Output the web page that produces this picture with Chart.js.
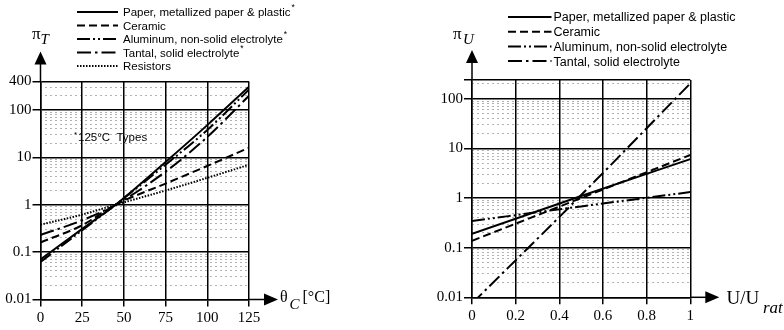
<!DOCTYPE html>
<html>
<head>
<meta charset="utf-8">
<script src="https://cdn.jsdelivr.net/npm/chart.js@4.4.0/dist/chart.umd.min.js"></script>
<style>
html,body{margin:0;padding:0;background:#fff;}
#wrap{position:relative;width:784px;height:330px;}
.box{position:absolute;top:0;width:392px;height:330px;}
</style>
</head>
<body>
<div id="wrap">
  <div class="box" style="left:0"><canvas id="tempChart"></canvas></div>
  <div class="box" style="left:392px"><canvas id="voltChart"></canvas></div>
</div>
<script>
// left: temperature factor pi_T vs case temperature
const tempC        = [0, 25, 45, 75, 100, 125];
const piT_paper    = [0.07, 0.31, 1, 8, 48, 310];
const piT_ceramic  = [0.16, 0.37, 1, 2.8, 6.6, 16];
const piT_aluminum = [0.062, 0.29, 1, 7, 38, 270];
const piT_tantal   = [0.23, 0.47, 1, 5, 27, 200];
const piT_resistor = [0.38, 0.62, 1, 2, 3.7, 7];
const tempTicks    = [0, 25, 50, 75, 100, 125];
const piT_labels   = [0.01, 0.1, 1, 10, 100, 400];
const namesT = ["Paper, metallized paper & plastic", "Ceramic", "Aluminum, non-solid electrolyte", "Tantal, solid electrolyte", "Resistors"];
const starT  = [true, false, true, true, false];

// right: voltage factor pi_U vs U/Urat
const uRatio       = [0, 0.5, 1];
const piU_paper    = [0.19, 1.1, 6.1];
const piU_ceramic  = [0.138, 1.0, 7.4];
const piU_aluminum = [0.345, 0.68, 1.32];
const piU_tantal   = [0.0075, 1.15, 205];
const uTicks       = [0, 0.2, 0.4, 0.6, 0.8, 1];
const piU_labels   = [0.01, 0.1, 1, 10, 100];
const piU_max      = 240;
const namesU = ["Paper, metallized paper & plastic", "Ceramic", "Aluminum, non-solid electrolyte", "Tantal, solid electrolyte"];

const dashes = [[], [8, 4], [13, 3, 2, 3, 2, 3], [14, 4, 2.5, 4], [1.5, 1.5]];
const serif = "'Liberation Serif', 'Times New Roman', serif";
const sans = "'Liberation Sans', Arial, sans-serif";

// faint dotted look for the minor grid lines
function dotPattern(){
    const c = document.createElement('canvas');
    c.width = 5; c.height = 1;
    const g = c.getContext('2d');
    g.fillStyle = 'rgba(0,0,0,0.3)';
    g.fillRect(0, 0, 2, 1);
    return g.createPattern(c, 'repeat');
}
const minorColor = dotPattern();

function points(xs, ys){
    return xs.map((x, i) => ({x: x, y: ys[i]}));
}

function makeSet(label, xs, ys, k, star){
    return {
        label: label,
        data: points(xs, ys),
        borderColor: '#000',
        borderWidth: 2,
        borderDash: dashes[k],
        pointRadius: 0,
        fill: false,
        cubicInterpolationMode: 'monotone',
        star: star
    };
}

function logTicks(max, labels){
    let out = [];
    for(let e = -2; e <= 2; e++){
        for(let k = 1; k <= 9; k++){
            let v = +(k * Math.pow(10, e)).toPrecision(3);
            if(v <= max) out.push(v);
        }
    }
    labels.forEach(v => { if(!out.includes(v)) out.push(v); });
    if(!out.includes(max)) out.push(max);
    return out.sort((a, b) => a - b);
}

function gridFor(isMajor){
    return {
        color: c => (c.tick && isMajor(c.tick.value)) ? '#000' : minorColor,
        lineWidth: c => (c.tick && isMajor(c.tick.value)) ? 1.5 : 1,
        tickColor: c => (c.tick && isMajor(c.tick.value)) ? '#000' : 'rgba(0,0,0,0)',
        tickWidth: 1.5,
        tickLength: 8
    };
}

// arrows, axis titles, legend and note
const decor = {
    id: 'decor',
    afterDraw(chart, args, o){
        const ctx = chart.ctx;
        const a = chart.chartArea;
        ctx.save();
        ctx.strokeStyle = '#000';
        ctx.fillStyle = '#000';
        ctx.lineWidth = 1.5;
        // y arrow
        ctx.beginPath();
        ctx.moveTo(a.left, a.top);
        ctx.lineTo(a.left, a.top - 18);
        ctx.stroke();
        ctx.beginPath();
        ctx.moveTo(a.left, a.top - 30);
        ctx.lineTo(a.left - 6, a.top - 17);
        ctx.lineTo(a.left + 6, a.top - 17);
        ctx.closePath();
        ctx.fill();
        // x arrow
        ctx.beginPath();
        ctx.moveTo(a.right, a.bottom);
        ctx.lineTo(a.right + 16, a.bottom);
        ctx.stroke();
        ctx.beginPath();
        ctx.moveTo(a.right + 29, a.bottom);
        ctx.lineTo(a.right + 15, a.bottom - 6);
        ctx.lineTo(a.right + 15, a.bottom + 6);
        ctx.closePath();
        ctx.fill();

        // titles
        ctx.textBaseline = 'alphabetic';
        ctx.textAlign = 'left';
        o.titles.forEach(t => {
            ctx.font = (t.italic ? 'italic ' : '') + t.size + 'px ' + serif;
            ctx.fillText(t.text, t.x, t.y);
        });

        // legend
        const sets = chart.data.datasets;
        const L = o.legend;
        ctx.textBaseline = 'middle';
        sets.forEach((ds, i) => {
            let y = L.y + i * L.gap;
            ctx.setLineDash(ds.borderDash);
            ctx.lineWidth = ds.borderWidth;
            ctx.beginPath();
            ctx.moveTo(L.x0, y);
            ctx.lineTo(L.x1, y);
            ctx.stroke();
            ctx.setLineDash([]);
            ctx.font = L.size + 'px ' + sans;
            ctx.fillText(ds.label, L.tx, y + 1);
            if(ds.star){
                let w = ctx.measureText(ds.label).width;
                ctx.font = (L.size - 3) + 'px ' + sans;
                ctx.fillText('*', L.tx + w + 1, y - 4);
            }
        });

        if(o.note){
            ctx.textBaseline = 'alphabetic';
            ctx.font = '8px ' + sans;
            ctx.fillText('*', o.note.x, o.note.y - 4);
            ctx.font = o.note.size + 'px ' + sans;
            ctx.fillText(o.note.text, o.note.x + 4, o.note.y);
        }
        ctx.restore();
    }
};

function buildChart(id, cfg){
    const isMajor = v => cfg.labels.includes(v) || v === cfg.max;
    const yTicks = logTicks(cfg.max, cfg.labels);
    return new Chart(id, {
        type: 'line',
        data: { datasets: cfg.sets },
        plugins: [decor],
        options: {
            responsive: true,
            maintainAspectRatio: false,
            animation: false,
            layout: { padding: cfg.padding },
            plugins: {
                legend: { display: false },
                tooltip: { enabled: false },
                decor: cfg.decor
            },
            scales: {
                x: {
                    type: 'linear',
                    min: cfg.xTicks[0],
                    max: cfg.xTicks[cfg.xTicks.length - 1],
                    afterBuildTicks: s => { s.ticks = cfg.xTicks.map(v => ({value: v})); },
                    afterFit: s => { s.height = cfg.xHeight; },
                    grid: { color: '#000', lineWidth: 1.5, tickColor: '#000', tickWidth: 1.5, tickLength: 7 },
                    border: { color: '#000', width: 1.5 },
                    ticks: {
                        color: '#000', padding: 3, autoSkip: false, maxRotation: 0,
                        font: { family: serif, size: 15 },
                        callback: v => String(v)
                    }
                },
                y: {
                    type: 'logarithmic',
                    min: 0.01,
                    max: cfg.max,
                    afterBuildTicks: s => { s.ticks = yTicks.map(v => ({value: v})); },
                    afterFit: s => { s.width = cfg.yWidth; },
                    grid: gridFor(isMajor),
                    border: { color: '#000', width: 1.5 },
                    ticks: {
                        color: '#000', padding: 1, autoSkip: false,
                        font: { family: serif, size: 15 },
                        callback: v => cfg.labels.includes(v) ? String(v) : ''
                    }
                }
            }
        }
    });
}

buildChart('tempChart', {
    sets: [
        makeSet(namesT[0], tempC, piT_paper, 0, starT[0]),
        makeSet(namesT[1], tempC, piT_ceramic, 1, starT[1]),
        makeSet(namesT[2], tempC, piT_aluminum, 2, starT[2]),
        makeSet(namesT[3], tempC, piT_tantal, 3, starT[3]),
        makeSet(namesT[4], tempC, piT_resistor, 4, starT[4])
    ],
    labels: piT_labels,
    max: 400,
    xTicks: tempTicks,
    padding: { left: 0, right: 143, top: 81.5, bottom: 0 },
    yWidth: 40.5,
    xHeight: 30.5,
    decor: {
        titles: [
            { text: '\u03C0', x: 32, y: 38.5, size: 17 },
            { text: 'T', x: 40.5, y: 43.5, size: 15, italic: true },
            { text: '\u03B8', x: 280, y: 302, size: 16 },
            { text: 'C', x: 289.5, y: 308.5, size: 15, italic: true },
            { text: '[\u00B0C]', x: 302.5, y: 302, size: 16 }
        ],
        legend: { x0: 77, x1: 118, tx: 123, y: 12, gap: 13.5, size: 11.5 },
        note: { text: '125\u00B0C  Types', x: 74, y: 141, size: 11.5 }
    }
});

buildChart('voltChart', {
    sets: [
        makeSet(namesU[0], uRatio, piU_paper, 0, false),
        makeSet(namesU[1], uRatio, piU_ceramic, 1, false),
        makeSet(namesU[2], uRatio, piU_aluminum, 2, false),
        makeSet(namesU[3], uRatio, piU_tantal, 3, false)
    ],
    labels: piU_labels,
    max: piU_max,
    xTicks: uTicks,
    padding: { left: 0, right: 93.7, top: 80, bottom: 0 },
    yWidth: 80,
    xHeight: 32.7,
    decor: {
        titles: [
            { text: '\u03C0', x: 61, y: 38.5, size: 17 },
            { text: 'U', x: 71, y: 43.5, size: 15, italic: true },
            { text: 'U/U', x: 334.5, y: 303.5, size: 19 },
            { text: 'rat', x: 371, y: 313, size: 17, italic: true }
        ],
        legend: { x0: 116, x1: 159.5, tx: 161.5, y: 17, gap: 14.7, size: 12.5 },
        note: null
    }
});
</script>
</body>
</html>
